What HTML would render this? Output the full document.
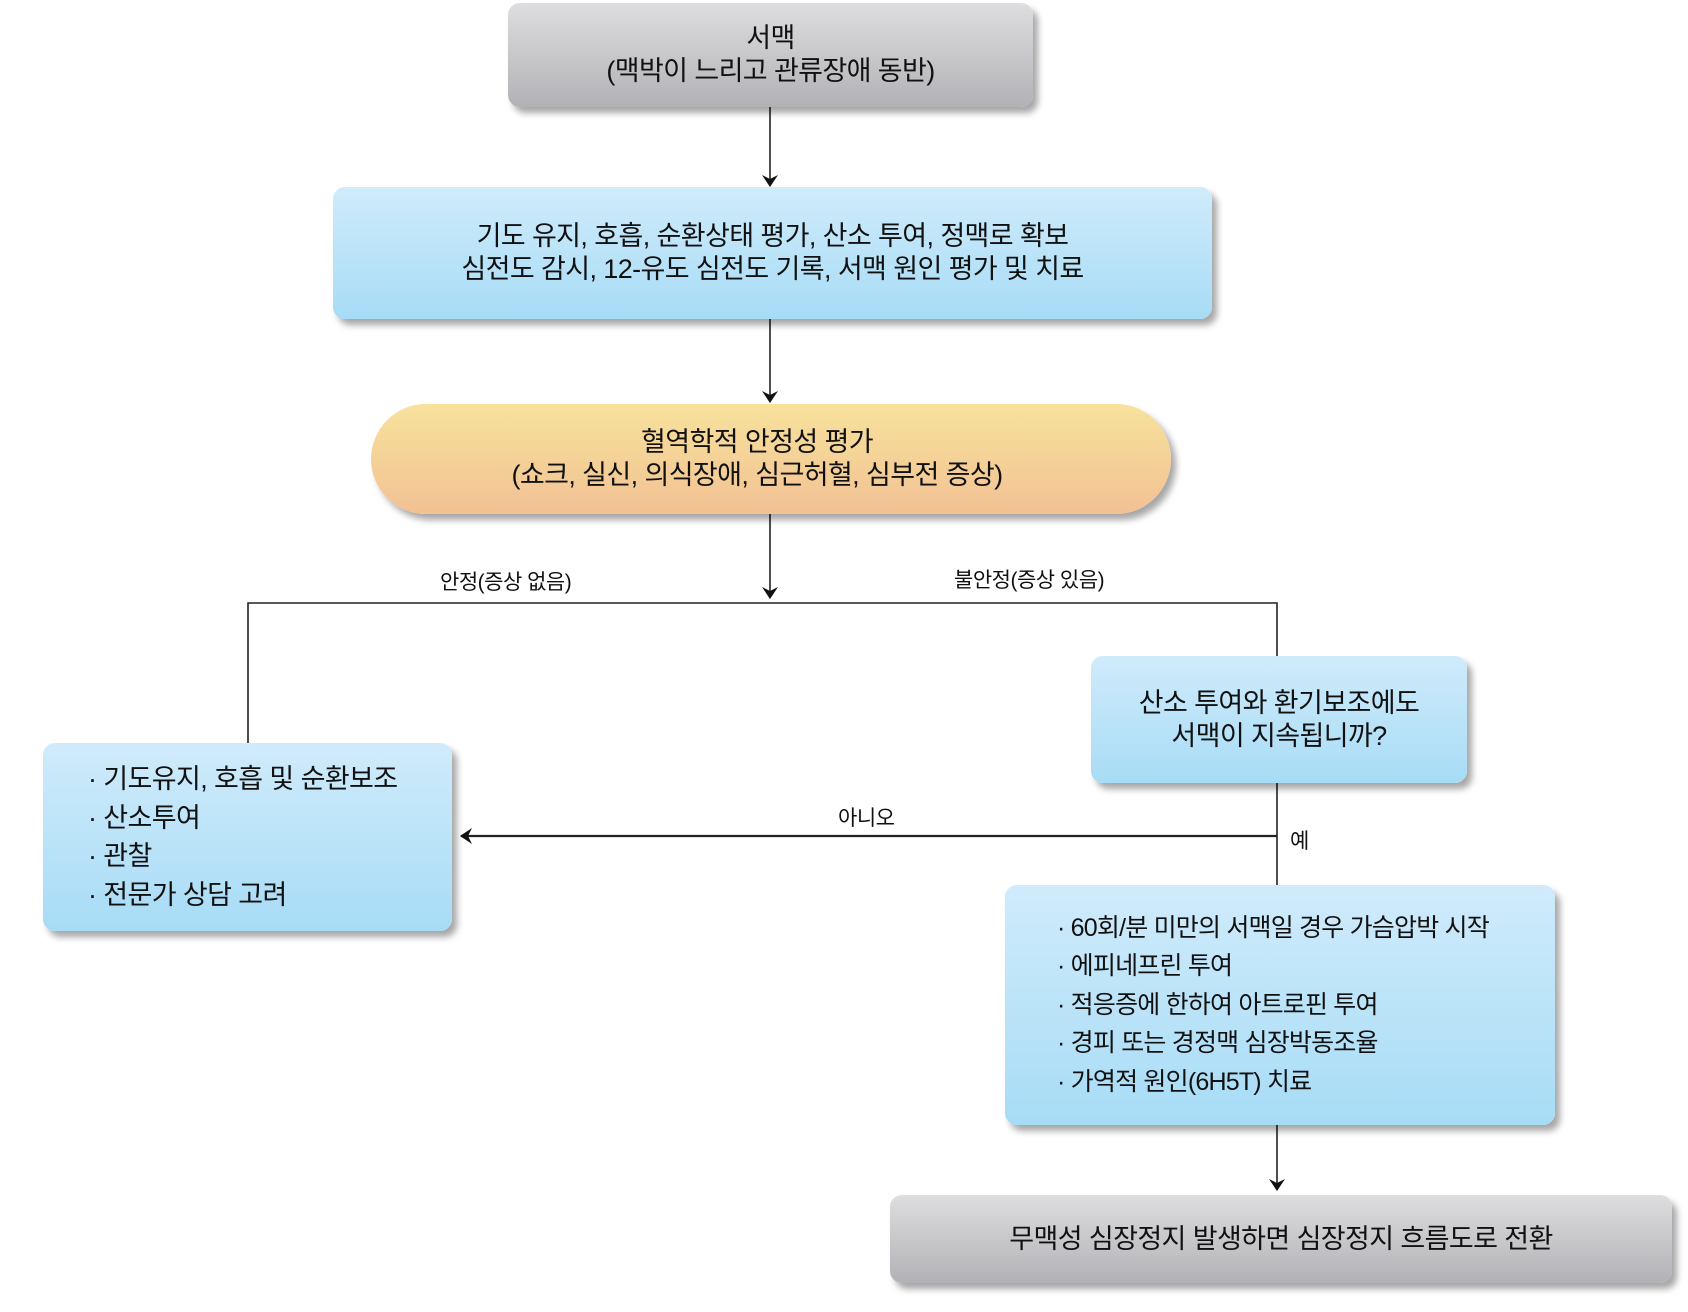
<!DOCTYPE html>
<html><head><meta charset="utf-8">
<style>
body{margin:0;width:1688px;height:1312px;background:#fff;position:relative;overflow:hidden;font-family:"Liberation Sans","Noto Sans CJK KR",sans-serif;color:#111}
.b{position:absolute;box-sizing:border-box;border-radius:12px;box-shadow:5px 6px 7px rgba(0,0,0,0.35);display:flex;flex-direction:column;justify-content:center;align-items:center;text-align:center;font-size:27px;line-height:33px;letter-spacing:-0.6px;white-space:nowrap}
.gray{background:linear-gradient(#dedee0,#b2b2b6)}
.blue{background:linear-gradient(#d0ebfb,#a7dcf6)}
.org{background:linear-gradient(#f7e29b,#f2c194);border-radius:60px}
.list{align-items:flex-start;text-align:left;line-height:38.5px}
.lbl{position:absolute;font-size:21px;letter-spacing:-0.5px;white-space:nowrap}
svg{position:absolute;left:0;top:0}
</style></head><body>
<svg width="1688" height="1312">
<defs><marker id="a" markerWidth="12" markerHeight="16" refX="11" refY="8" orient="auto" markerUnits="userSpaceOnUse"><path d="M0,0 L12,8 L0,16 L4,8 z" fill="#111"/></marker></defs>
<g stroke="#222" stroke-width="1.6" fill="none">
<line x1="770" y1="107" x2="770" y2="186" marker-end="url(#a)"/>
<line x1="770" y1="319" x2="770" y2="402" marker-end="url(#a)"/>
<line x1="770" y1="514" x2="770" y2="598" marker-end="url(#a)"/>
<polyline points="248,743 248,603 1277,603 1277,657"/>
<line x1="1277" y1="783" x2="1277" y2="885"/>
<line x1="1277" y1="836" x2="461" y2="836" stroke-width="2.2" marker-end="url(#a)"/>
<line x1="1277" y1="1125" x2="1277" y2="1190" marker-end="url(#a)"/>
</g>
</svg>
<div class="b gray" style="left:508px;top:3px;width:525px;height:104px">서맥<br>(맥박이 느리고 관류장애 동반)</div>
<div class="b blue" style="left:333px;top:187px;width:879px;height:132px">기도 유지, 호흡, 순환상태 평가, 산소 투여, 정맥로 확보<br>심전도 감시, 12-유도 심전도 기록, 서맥 원인 평가 및 치료</div>
<div class="b org" style="left:371px;top:404px;width:800px;height:110px;padding-right:28px">혈역학적 안정성 평가<br>(쇼크, 실신, 의식장애, 심근허혈, 심부전 증상)</div>
<div class="lbl" style="left:440px;top:566px">안정(증상 없음)</div>
<div class="lbl" style="left:954px;top:564px">불안정(증상 있음)</div>
<div class="b blue" style="left:1091px;top:656px;width:376px;height:127px">산소 투여와 환기보조에도<br>서맥이 지속됩니까?</div>
<div class="b blue list" style="left:43px;top:743px;width:409px;height:188px;padding-left:45px">
<div>· 기도유지, 호흡 및 순환보조</div><div>· 산소투여</div><div>· 관찰</div><div>· 전문가 상담 고려</div></div>
<div class="lbl" style="left:838px;top:802px">아니오</div>
<div class="lbl" style="left:1290px;top:825px">예</div>
<div class="b blue list" style="left:1005px;top:885px;width:550px;height:240px;padding-left:52px;font-size:25px;letter-spacing:-0.8px">
<div>· 60회/분 미만의 서맥일 경우 가슴압박 시작</div><div>· 에피네프린 투여</div><div>· 적응증에 한하여 아트로핀 투여</div><div>· 경피 또는 경정맥 심장박동조율</div><div>· 가역적 원인(6H5T) 치료</div></div>
<div class="b gray" style="left:890px;top:1195px;width:782px;height:88px">무맥성 심장정지 발생하면 심장정지 흐름도로 전환</div>
</body></html>
